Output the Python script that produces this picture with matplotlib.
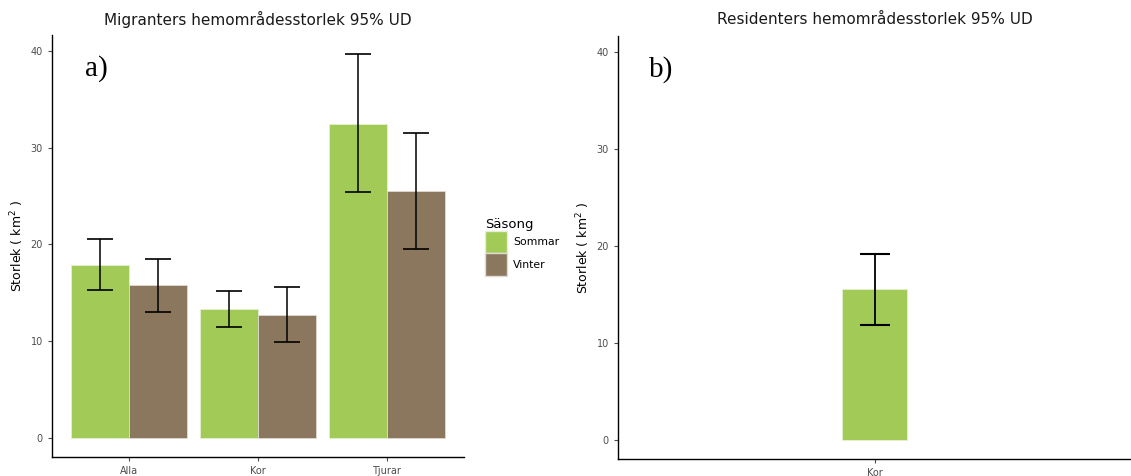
import matplotlib
matplotlib.use("Agg")
import matplotlib.pyplot as plt
import numpy as np
from matplotlib.patches import Patch

# Data
categories = ["Alla", "Kor", "Tjurar"]
seasons = ["Sommar", "Vinter"]
sommar_mean = [17.9, 13.3, 32.5]
sommar_lo = [15.3, 11.4, 25.4]
sommar_hi = [20.6, 15.2, 39.7]
vinter_mean = [15.8, 12.7, 25.5]
vinter_lo = [13.0, 9.9, 19.5]
vinter_hi = [18.5, 15.6, 31.5]

res_categories = ["Kor"]
res_mean = [15.6]
res_lo = [11.8]
res_hi = [19.2]

yticks = [0, 10, 20, 30, 40]

green = "#A1CB56"
brown = "#8B775E"
tick_col = "#4D4D4D"

fig = plt.figure(figsize=(11.31, 4.76), dpi=100)
W, H = 1131, 476

def style(ax):
    for s in ["top", "right"]:
        ax.spines[s].set_visible(False)
    for s in ["left", "bottom"]:
        ax.spines[s].set_linewidth(1.0)
        ax.spines[s].set_color("black")
    ax.tick_params(axis="both", colors=tick_col, labelsize=7, length=3, width=0.8)
    ax.set_yticks(yticks)
    ax.set_ylim(-2.0, 41.7)

# Left panel
ax1 = fig.add_axes([52 / W, 19 / H, (464 - 52) / W, (441.4 - 19) / H])
x = np.arange(1, len(categories) + 1)
bw = 0.45
ax1.bar(x - bw / 2, sommar_mean, width=bw, color=green, edgecolor="#E6EFD6", linewidth=0.6)
ax1.bar(x + bw / 2, vinter_mean, width=bw, color=brown, edgecolor="#E0DAD2", linewidth=0.6)
s_m = np.array(sommar_mean); v_m = np.array(vinter_mean)
ax1.errorbar(x - bw / 2, s_m, yerr=[s_m - np.array(sommar_lo), np.array(sommar_hi) - s_m],
             fmt="none", ecolor="black", elinewidth=1.1, capsize=9.5, capthick=1.2)
ax1.errorbar(x + bw / 2, v_m, yerr=[v_m - np.array(vinter_lo), np.array(vinter_hi) - v_m],
             fmt="none", ecolor="black", elinewidth=1.1, capsize=9.5, capthick=1.2)
ax1.set_xlim(0.4, 3.6)
ax1.set_xticks(x)
ax1.set_xticklabels(categories)
style(ax1)
ax1.set_ylabel("Storlek ( km$^2$ )", fontsize=9, color="black", labelpad=3)
ax1.set_title("Migranters hemområdesstorlek 95% UD", fontsize=11, color="#1A1A1A", pad=7)
ax1.text(0.08, 0.92, "a)", transform=ax1.transAxes, fontsize=21,
         family="Liberation Serif", va="center", ha="left")

handles = [Patch(facecolor=green, edgecolor="#E6EFD6"), Patch(facecolor=brown, edgecolor="#E0DAD2")]
leg = fig.legend(handles, seasons, title="Säsong", loc="upper left",
                 bbox_to_anchor=(485 / W, 1 - 218 / H), frameon=False,
                 fontsize=7.8, title_fontsize=9.5, handlelength=2.0, handleheight=2.8,
                 handletextpad=0.6, labelspacing=0.0, borderaxespad=0, borderpad=0)
leg._legend_box.align = "left"

# Right panel
ax2 = fig.add_axes([618 / W, 17 / H, (1131 - 618) / W, (440 - 17) / H])
xr = np.arange(1, len(res_categories) + 1)
r_m = np.array(res_mean)
ax2.bar(xr, r_m, width=0.15, color=green, edgecolor="#E6EFD6", linewidth=0.6)
ax2.errorbar(xr, r_m, yerr=[r_m - np.array(res_lo), np.array(res_hi) - r_m],
             fmt="none", ecolor="black", elinewidth=1.3, capsize=10.5, capthick=1.5)
ax2.set_xlim(0.4, 1.6)
ax2.set_xticks(xr)
ax2.set_xticklabels(res_categories)
style(ax2)
ax2.set_ylabel("Storlek ( km$^2$ )", fontsize=9, color="black", labelpad=3)
ax2.set_title("Residenters hemområdesstorlek 95% UD", fontsize=11, color="#1A1A1A", pad=9)
ax2.text(0.06, 0.92, "b)", transform=ax2.transAxes, fontsize=21,
         family="Liberation Serif", va="center", ha="left")

fig.savefig("out.png", dpi=100, facecolor="white")
